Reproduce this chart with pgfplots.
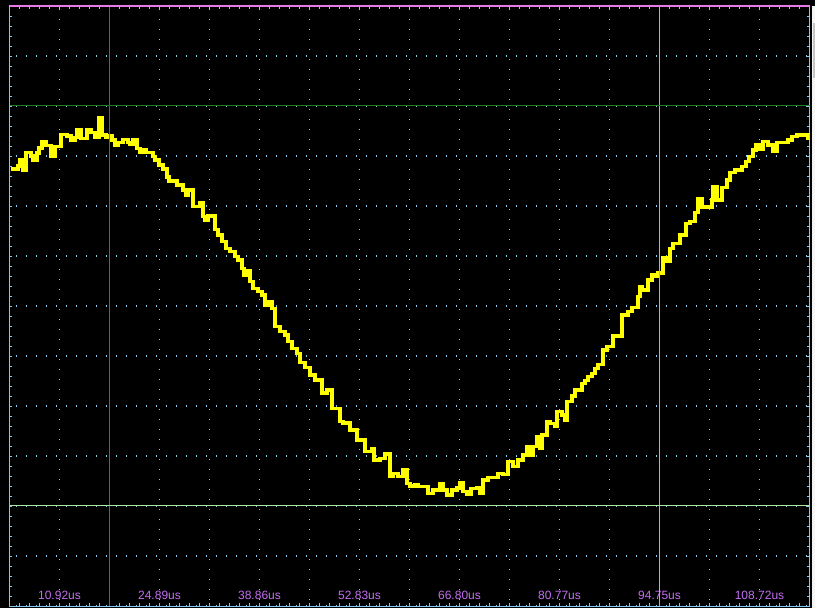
\documentclass[border=0pt]{standalone}
\usepackage{fontspec}
\setmainfont{Liberation Sans}
\usepackage{pgfplots}
\pgfplotsset{compat=1.18}

\definecolor{gridblue}{RGB}{140,200,235}
\definecolor{frameblue}{RGB}{130,200,245}
\definecolor{topframe}{RGB}{232,120,232}
\definecolor{trace}{RGB}{255,255,0}
\definecolor{labelpink}{RGB}{195,110,240}
\definecolor{curA}{RGB}{200,40,140}
\definecolor{curB}{RGB}{232,140,232}
\definecolor{curC}{RGB}{30,125,30}
\definecolor{curD}{RGB}{170,230,160}

\begin{document}
\begin{tikzpicture}
\fill[black] (0,0) rectangle (815bp,608bp);
\fill[white!92!gray] (811.5bp,0) rectangle (815bp,602bp);
\fill[gray!45] (812.5bp,530bp) rectangle (815bp,585bp);
\begin{axis}[
  at={(9.5bp,2bp)}, anchor=south west,
  scale only axis, width=800bp, height=600bp,
  xmin=3.935, xmax=115.695, ymin=0, ymax=600,
  xtick={3.935,10.92,...,115.7},
  xticklabels={,10.92us,,24.89us,,38.86us,,52.83us,,66.80us,,80.77us,,94.75us,,108.72us,},
  minor xtick={3.935,5.332,...,115.7},
  ytick={0,50,...,600}, yticklabels={},
  minor ytick={0,10,...,600},
  tick align=inside,
  major tick length=3bp, minor tick length=3bp,
  tick style={frameblue, line width=0.8bp},
  xmajorgrids, ymajorgrids,
  major grid style={gridblue, line width=1.1bp, dash pattern=on 1.1bp off 8.9bp, dash phase=4bp},
  axis line style={frameblue, line width=1bp},
  xticklabel style={anchor=center, yshift=11bp, text=labelpink, font=\fontsize{12bp}{14bp}\selectfont},
]
% trace: time [us], level (screen units, 50 per division)
\addplot[const plot, trace, line width=3.3bp] table {
x y
4.145 437
5.123 440
5.402 446.7
5.821 436
6.240 453.3
6.939 450
7.218 446
7.777 453
8.056 458
8.475 464.3
9.034 460.3
9.733 449.3
10.292 459.3
11.130 471.7
11.968 470
12.527 466
13.086 468.3
13.365 476.7
13.924 467.7
14.762 476.7
15.321 473.7
15.880 468.3
16.438 488.7
16.857 471
17.416 468.3
17.835 470.3
18.254 466
18.674 461
19.093 463.3
19.791 466.7
20.490 463.7
20.769 461.7
21.188 466.7
21.747 457.7
22.166 453.7
22.585 456
23.004 453.7
23.982 449.3
24.262 446
24.820 441
25.379 437
25.938 429
26.217 425
27.335 421
28.173 416
28.592 411
28.872 416
29.570 399.3
30.548 403.3
30.967 389.3
31.247 386
31.666 390
32.644 376.7
33.063 371
33.621 364.3
34.180 357.7
34.739 354.3
35.438 349.3
35.857 346
36.415 337.7
36.695 331
37.114 335.3
37.533 324.3
37.952 317.7
38.651 314.3
39.209 311
39.629 301
40.048 304.3
40.606 297.7
41.026 279.3
41.724 274.3
42.423 271
42.842 264.3
43.400 257.7
44.099 252.7
44.518 243.3
45.217 238.3
45.915 231
46.614 226
47.591 213
48.290 216
48.988 197.7
50.106 184.3
50.525 183
51.503 176
52.481 166
53.599 154.3
54.576 157.7
54.856 146
55.694 147.7
56.393 152
57.091 129.3
57.510 132.7
58.209 129.3
58.907 136
59.466 122.7
59.885 120
60.584 121
61.003 119.3
62.400 112.7
63.098 116
64.076 122.7
64.495 116
65.054 111
65.752 116
66.451 118
66.870 123.7
67.289 114.3
67.848 112
68.407 117.7
69.245 118.7
69.664 112.7
70.083 126
70.782 128.7
72.179 132.7
72.877 131.7
73.576 144.3
74.274 139.3
74.973 146
75.671 151
76.230 159.3
76.649 151
77.068 159.3
77.627 169.3
78.046 158
78.325 171
79.024 184.3
79.443 182.7
80.142 179.3
80.421 194.3
81.119 191
81.539 186
81.818 204.3
82.516 210
82.936 216
83.913 222.7
84.333 225.3
84.752 229.3
85.310 232.7
85.730 237.7
86.149 241.7
86.847 256
87.406 259.3
88.244 270
89.501 291
90.340 294.3
90.898 298.7
91.737 309.3
92.016 319.3
92.295 316
93.134 326
93.692 331
94.112 329.3
94.531 333
95.229 348
95.788 345
96.207 357.7
96.626 362.7
97.604 371
98.442 382.7
99.001 384.3
99.700 393.3
100.119 407.7
100.677 399
102.074 406
102.214 419.3
102.773 406
103.471 418.7
104.170 426
104.589 433.3
105.288 436
106.265 439.3
106.824 444.3
107.243 449.3
107.802 456
108.221 461
108.780 456.7
109.199 464.3
109.898 461
110.596 454.3
111.155 463.3
112.692 466
113.250 469.3
113.949 471
115.486 467.7
115.695 467.7
};
% cursors
\draw[curA, line width=1bp] (axis cs:17.905,0) -- (axis cs:17.905,600);
\draw[curB, line width=1bp] (axis cs:94.75,0) -- (axis cs:94.75,600);
\draw[curC, line width=1bp] (axis cs:3.935,500) -- (axis cs:115.695,500);
\draw[curD, line width=1bp] (axis cs:3.935,100) -- (axis cs:115.695,100);
\draw[topframe, line width=2bp] (rel axis cs:0,1) -- (rel axis cs:1,1);
\end{axis}
\pgfresetboundingbox
\useasboundingbox (0,0) rectangle (815bp,608bp);
\end{tikzpicture}
\end{document}
